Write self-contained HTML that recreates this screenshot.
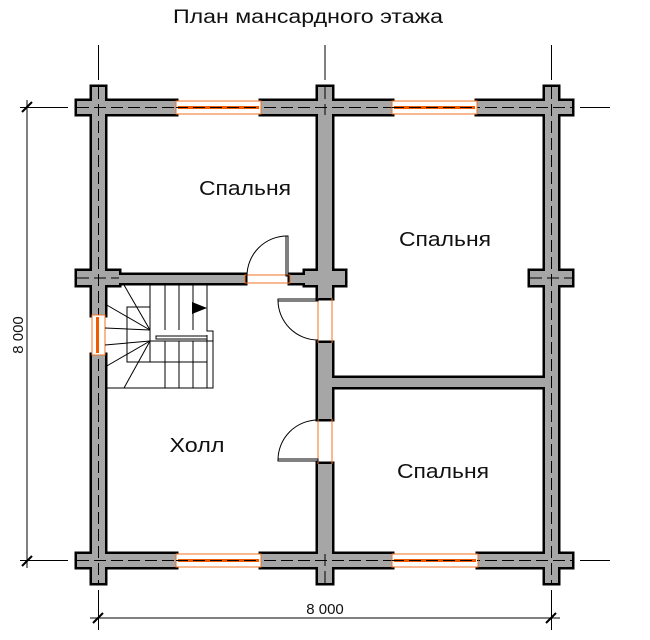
<!DOCTYPE html>
<html><head><meta charset="utf-8"><style>
body{margin:0;background:#fff}
svg{display:block}
text{font-family:"Liberation Sans",sans-serif;fill:#111}
</style></head><body>
<svg width="650" height="640" viewBox="0 0 650 640" xmlns="http://www.w3.org/2000/svg">
<defs>
<g id="walls">
<rect x="77" y="101" width="99" height="13"/>
<rect x="261" y="101" width="131" height="13"/>
<rect x="477" y="101" width="95" height="13"/>
<rect x="77" y="554" width="99" height="13"/>
<rect x="261" y="554" width="131" height="13"/>
<rect x="478" y="554" width="94" height="13"/>
<rect x="92" y="87" width="13" height="228"/>
<rect x="92" y="355" width="13" height="228"/>
<rect x="545" y="87" width="13" height="496"/>
<rect x="318" y="87" width="14" height="211"/>
<rect x="318" y="343" width="14" height="76"/>
<rect x="318" y="464" width="14" height="119"/>
<rect x="77" y="271" width="42" height="14"/>
<rect x="119" y="275" width="126" height="8"/>
<rect x="290" y="275" width="15" height="8"/>
<rect x="305" y="271" width="40" height="14"/>
<rect x="530" y="271" width="42" height="14"/>
<rect x="332" y="378" width="213" height="9"/>
</g>
</defs>
<text x="308" y="23" font-size="19" text-anchor="middle" textLength="270" lengthAdjust="spacingAndGlyphs">План мансардного этажа</text>
<use href="#walls" fill="#000" stroke="#000" stroke-width="5"/>
<use href="#walls" fill="#a6a6a6"/>
<!-- axis dashed lines -->
<g stroke="#000" stroke-width="1" stroke-dasharray="12,5" fill="none">
<line x1="77" y1="107.5" x2="572" y2="107.5"/>
<line x1="77" y1="560.5" x2="572" y2="560.5"/>
<line x1="98.5" y1="87" x2="98.5" y2="583"/>
<line x1="551.5" y1="87" x2="551.5" y2="583"/>
<line x1="325" y1="87" x2="325" y2="115"/>
<line x1="325" y1="554" x2="325" y2="583"/>
<line x1="77" y1="278" x2="119" y2="278"/>
<line x1="530" y1="278" x2="572" y2="278"/>
</g>
<g stroke="#000" stroke-width="1">
<line x1="20" y1="107.5" x2="68" y2="107.5"/>
<line x1="580" y1="107.5" x2="610" y2="107.5"/>
<line x1="20" y1="560.5" x2="68" y2="560.5"/>
<line x1="580" y1="560.5" x2="610" y2="560.5"/>
<line x1="98.5" y1="45" x2="98.5" y2="80"/>
<line x1="325" y1="45" x2="325" y2="80"/>
<line x1="551.5" y1="45" x2="551.5" y2="80"/>
<line x1="98.5" y1="590" x2="98.5" y2="630"/>
<line x1="551.5" y1="590" x2="551.5" y2="630"/>
<line x1="27" y1="100" x2="27" y2="568"/>
<line x1="90" y1="618" x2="560" y2="618"/>
<line x1="22" y1="112" x2="32" y2="102" stroke-width="2"/>
<line x1="22" y1="566" x2="32" y2="556" stroke-width="2"/>
<line x1="93" y1="623" x2="103" y2="613" stroke-width="2"/>
<line x1="546" y1="623" x2="556" y2="613" stroke-width="2"/>
</g>
<text x="325" y="614" font-size="15" text-anchor="middle">8 000</text>
<text x="0" y="0" font-size="15" text-anchor="middle" transform="translate(23,335) rotate(-90)">8 000</text>
<!-- windows -->
<g stroke="#f07020" stroke-width="1" fill="#fff">
<rect x="176" y="101" width="85" height="13"/>
<rect x="392" y="101" width="85" height="13"/>
<rect x="176" y="554" width="85" height="13"/>
<rect x="392" y="554" width="86" height="13"/>
<rect x="92" y="315" width="13" height="40"/>
</g>
<g fill="#f05a00">
<rect x="178" y="106" width="81" height="3"/>
<rect x="394" y="106" width="81" height="3"/>
<rect x="178" y="559" width="81" height="3"/>
<rect x="394" y="559" width="82" height="3"/>
<rect x="96" y="317" width="3" height="36"/>
</g>
<g stroke="#000" stroke-width="1">
<line x1="176" y1="107.5" x2="261" y2="107.5" stroke-dasharray="12,5"/>
<line x1="392" y1="107.5" x2="477" y2="107.5" stroke-dasharray="12,5"/>
<line x1="176" y1="560.5" x2="261" y2="560.5" stroke-dasharray="12,5"/>
<line x1="392" y1="560.5" x2="478" y2="560.5" stroke-dasharray="12,5"/>
</g>
<g stroke="#f07020" stroke-width="1" fill="none">
<rect x="245" y="275" width="45" height="8"/>
<line x1="318" y1="298" x2="318" y2="343"/><line x1="332" y1="298" x2="332" y2="343"/>
<line x1="318" y1="419" x2="318" y2="464"/><line x1="332" y1="419" x2="332" y2="464"/>
</g>
<g stroke="#000" stroke-width="1" fill="none">
<rect x="286" y="236" width="2" height="40"/>
<path d="M247 276 A40 40 0 0 1 287 236"/>
<rect x="278" y="299" width="40" height="2"/>
<path d="M278 300 A40 40 0 0 0 318 340"/>
<rect x="278" y="459" width="40" height="2"/>
<path d="M278 460 A40 40 0 0 1 318 420"/>
</g>
<!-- stairs -->
<g stroke="#000" stroke-width="1" fill="none">
<path d="M119 285 H207 V331 H213 V388 H105"/>
<rect x="127" y="307" width="23" height="55"/>
<line x1="150" y1="285" x2="150" y2="330"/>
<line x1="165" y1="285" x2="165" y2="330"/>
<line x1="179" y1="285" x2="179" y2="330"/>
<line x1="193" y1="285" x2="193" y2="330"/>
<line x1="150" y1="341" x2="213" y2="341"/>
<line x1="150" y1="362" x2="207" y2="362"/>
<line x1="165" y1="341" x2="165" y2="388"/>
<line x1="179" y1="341" x2="179" y2="388"/>
<line x1="193" y1="341" x2="193" y2="388"/>
<line x1="207" y1="335" x2="207" y2="388"/>
<path d="M156 336 H207 V339 H156 Z"/>
<line x1="150" y1="330" x2="124" y2="285"/>
<line x1="150" y1="330" x2="105" y2="304"/>
<line x1="150" y1="330" x2="105" y2="328"/>
<line x1="150" y1="341" x2="105" y2="345"/>
<line x1="150" y1="341" x2="105" y2="367"/>
<line x1="150" y1="341" x2="124" y2="388"/>
</g>
<polygon points="192,302 207,308 192,314" fill="#000"/>
<text x="245" y="195" font-size="20" text-anchor="middle" textLength="92" lengthAdjust="spacingAndGlyphs">Спальня</text>
<text x="445" y="246" font-size="20" text-anchor="middle" textLength="92" lengthAdjust="spacingAndGlyphs">Спальня</text>
<text x="443" y="478" font-size="20" text-anchor="middle" textLength="92" lengthAdjust="spacingAndGlyphs">Спальня</text>
<text x="197" y="452" font-size="20" text-anchor="middle" textLength="55" lengthAdjust="spacingAndGlyphs">Холл</text>
</svg>
</body></html>
